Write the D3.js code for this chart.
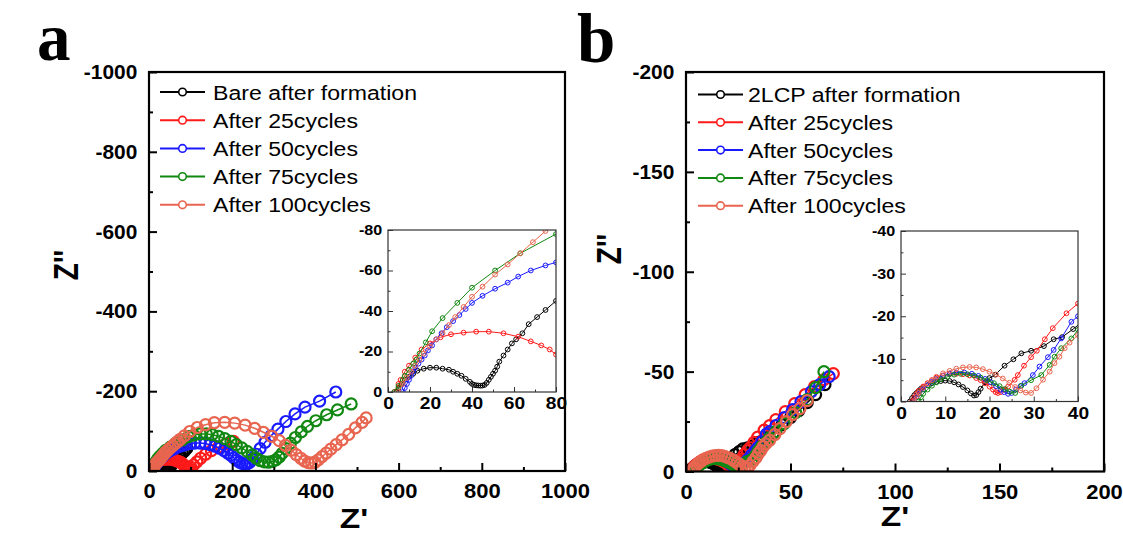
<!DOCTYPE html>
<html>
<head>
<meta charset="utf-8">
<script src="https://d3js.org/d3.v7.min.js"></script>
<style>
body { margin: 0; background: #fff; }
text { font-family: "Liberation Sans", Arial, sans-serif; }
</style>
</head>
<body>
<svg id="chart" width="1123" height="545"></svg>
<script>
// ---------- data (Z' , Z'') ----------
const colors = ['#000000', '#ff1a1a', '#1a1aff', '#118811', '#e8654f'];

const namesA = ['Bare after formation', 'After 25cycles', 'After 50cycles', 'After 75cycles', 'After 100cycles'];
const namesB = ['2LCP after formation', 'After 25cycles', 'After 50cycles', 'After 75cycles', 'After 100cycles'];

const bareA = [[4,0],[5,-2],[6.5,-4],[8,-6],[10,-7.5],[12,-9],[14,-10.5],[17,-11.5],[20,-12],[23,-12],[26,-11.5],[29,-11],
  [31,-10],[33,-9],[35,-8],[37,-6.5],[39,-5],[40,-4],[41,-3.5],[42,-3.3],[43,-3.2],[44,-3.1],[45,-3.2],[46,-3.5],[47,-4.5],
  [48,-6],[49,-7.5],[50,-9],[51,-10.5],[52,-12.5],[53,-15],[55,-18],[57,-21],[59,-24],[61,-26],[64,-29],[67,-33.5],
  [71,-37],[75,-40.5],[80,-45],[85,-50],[91,-57]];
const c25A = [[3,0],[5,-4],[6,-6],[8,-10],[10,-13],[13,-17],[16,-21],[20,-24],[25,-27],[30,-28.5],[36,-29.3],[42,-29.8],
  [48,-29.8],[55,-29],[62,-27.3],[68,-25],[73,-23],[77,-21],[80,-18.5],[84,-15],[87,-10],[90,-6],[93,-4],[97,-5],
  [101,-9],[107,-15],[115,-23],[124,-32],[136,-42],[150,-51],[167,-60],[185,-68],[203,-74]];
const c50A = [[7,0],[8,-2],[9,-4],[10,-6],[11,-8],[12,-10],[13,-12],[14.5,-14],[16,-16],[17.5,-18],[19,-20.5],[21,-23],
  [23,-26],[25.5,-29],[28,-32],[31,-35],[34,-38],[37,-41],[40,-44],[45,-47.5],[51,-51],[57,-54],[62,-57],[68,-60],
  [75,-62.5],[80,-64],[90,-67],[100,-69],[110,-70],[123,-70],[135,-69],[147,-66],[159,-62],[170,-57],[180,-51],
  [189,-45],[197,-39],[204,-33],[211,-27],[218,-22],[224,-19],[230,-17],[236,-18],[242,-22],[249,-30],[258,-42],
  [267,-56],[279,-72],[293,-88],[310,-105],[329,-124],[351,-143],[375,-160],[410,-175],[449,-198]];
const c75A = [[3,0],[5,-3],[7,-6],[8,-8],[10,-11],[12,-14],[13.5,-16],[15,-19],[18,-24.5],[21,-30],[26,-36.5],[33,-44],
  [40,-51.5],[51,-60],[63,-68.5],[80,-78],[95,-86],[108,-90],[123,-93],[138,-93],[152,-91],[167,-87],[182,-81],
  [197,-74],[210,-66],[223,-58],[236,-49],[248,-40],[258,-32],[267,-26],[277,-23],[287,-22],[297,-24],[305,-28],
  [313,-35],[320,-44],[329,-56],[340,-70],[352,-84],[366,-98],[381,-112],[401,-126],[427,-141],[453,-153],[486,-168]];
const c100A = [[5,0],[7,-4],[9,-7],[11,-10],[13,-13],[15,-16],[17,-19],[20,-22.5],[23,-26],[26,-29],[29,-33],[32,-37],
  [36,-42],[40,-47],[45,-52],[51,-58],[57,-63],[63,-68.5],[69,-74],[75,-79.5],[85,-88],[98,-99],[116,-109],[136,-116],
  [157,-121],[182,-122],[206,-120],[231,-115],[254,-107],[275,-97],[295,-87],[313,-76],[328,-64],[342,-52],[354,-41],
  [365,-32],[374,-25],[383,-21],[391,-20],[399,-22],[407,-28],[416,-36],[426,-45],[437,-55],[450,-66],[464,-78],
  [480,-92],[496,-108],[512,-122],[522,-133]];

const lcpB = [[2,0],[2.5,-0.8],[3,-1.5],[3.5,-2],[4,-2.5],[4.5,-3],[5,-3.3],[6,-3.8],[7,-4.3],[8,-4.6],[9,-4.8],[10,-4.9],
  [11,-4.8],[12,-4.5],[13,-4],[14,-3.4],[15,-2.6],[15.8,-1.9],[16.5,-1.4],[17,-1.5],[17.5,-2.2],[18,-3],[19,-4.5],
  [20,-5.5],[21.3,-6.3],[23.4,-8.4],[25.4,-9.9],[27.2,-11.3],[29.4,-11.9],[32.3,-13],[34.5,-14.6],[36.4,-15.1],
  [38.9,-17],[42,-19.5],[46,-23.5],[50,-27],[54,-30.5],[58,-34.5],[62,-38.5],[66.5,-43.5]];
const c25B = [[2.5,0],[3,-1],[3.5,-1.8],[4,-2.5],[5,-3.5],[6,-4.3],[7,-5],[8,-5.6],[9.5,-6.1],[11,-6.4],[12.5,-6.5],
  [14,-6.4],[15.5,-6.1],[17,-5.5],[18,-5],[19,-4.3],[20,-3.5],[20.8,-2.8],[21.4,-2.2],[21.9,-2],[22.5,-2.2],[23.2,-2.8],
  [24.2,-3.5],[25.7,-5.1],[26.4,-6.2],[27.8,-8.4],[29.4,-10.4],[30.7,-11.9],[32.5,-14.6],[34.3,-17.2],[37.4,-20.7],
  [40,-23],[43,-26],[47.5,-30],[52,-34],[57,-38.5],[61.5,-42.5],[66,-46],[70.5,-49]];
const c50B = [[3,0],[3.5,-1],[4,-1.8],[5,-2.8],[6,-3.8],[7,-4.6],[8,-5.3],[9.5,-6],[11,-6.5],[12.5,-6.8],[14.3,-6.8],
  [16,-6.5],[17.5,-6],[19,-5.3],[20.3,-4.5],[21.5,-3.6],[22.5,-2.8],[23.3,-2.2],[24.2,-1.8],[25,-2],[26,-2.8],[27,-3.6],
  [27.9,-4.3],[29.8,-6.2],[31.3,-8.2],[33.2,-10.4],[34.5,-12.1],[36.2,-14.8],[38.5,-18.7],[40,-20],[43,-23],[47,-27],
  [51,-31],[55,-35],[60,-40],[64,-43.5],[68.5,-47.5]];
const c75B = [[4,0],[4.5,-1],[5,-1.8],[6,-2.8],[7,-3.7],[8,-4.5],[9,-5.2],[10.5,-5.8],[12,-6.3],[13.5,-6.5],[15,-6.4],
  [16.5,-6.1],[18,-5.6],[19.5,-5],[21,-4.3],[22.3,-3.6],[23.5,-2.9],[24.6,-2.3],[25.8,-2],[27.2,-3.7],[29.4,-5],
  [31.7,-6.2],[33.6,-8.6],[34.7,-10.5],[36.2,-12.5],[38.5,-14.8],[40,-16.8],[43,-20],[47,-24],[52.5,-29.5],[58,-36],
  [62,-42],[66,-50]];
const c100B = [[3,0],[3.5,-1.2],[4,-2],[5,-3.2],[6,-4.2],[7,-5],[8,-5.8],[9.5,-6.6],[11,-7.2],[12.5,-7.7],[14,-8],
  [15.5,-8.1],[17,-8],[18.5,-7.6],[20,-7],[21.5,-6.3],[23,-5.4],[24.5,-4.4],[25.8,-3.4],[27,-2.6],[28.2,-2.1],[29.4,-2],
  [30.6,-3.1],[32.1,-5.1],[33.6,-7],[34.7,-9],[35.8,-10.5],[37,-12.5],[38.1,-13.8],[40,-15.6],[42.5,-18.5],[45,-21.5],
  [48,-25],[51,-28.5],[54.5,-31.5],[58,-35.5]];

// ticks
const aXTicks = [0, 200, 400, 600, 800, 1000];
const aYTicks = [0, -200, -400, -600, -800, -1000];
const aInXTicks = [0, 20, 40, 60, 80];
const aInYTicks = [0, -20, -40, -60, -80];
const bXTicks = [0, 50, 100, 150, 200];
const bYTicks = [0, -50, -100, -150, -200];
const bInXTicks = [0, 10, 20, 30, 40];
const bInYTicks = [0, -10, -20, -30, -40];

const svg = d3.select('#chart');

function stext(g, x, y, str, size, sx, anchor, extra) {
  return g.append('text')
    .attr('transform', `translate(${x},${y}) scale(${sx},1)` + (extra || ''))
    .attr('text-anchor', anchor)
    .style('font-size', size + 'px')
    .style('font-weight', 'bold')
    .text(str);
}

function minorOf(ticks) {
  const out = [];
  for (let i = 0; i < ticks.length - 1; i++) out.push((ticks[i] + ticks[i + 1]) / 2);
  return out;
}

// one plot frame with data
function plot(o) {
  const [x0, x1, yb, yt] = o.box;
  const xs = d3.scaleLinear().domain([o.xTicks[0], o.xTicks[o.xTicks.length - 1]]).range([x0, x1]);
  const ys = d3.scaleLinear().domain([o.yTicks[0], o.yTicks[o.yTicks.length - 1]]).range([yb, yt]);
  const g = svg.append('g');
  if (o.fill) g.append('rect').attr('x', x0).attr('y', yt).attr('width', x1 - x0).attr('height', yb - yt).attr('fill', '#fff');

  const id = 'clip' + o.key;
  g.append('clipPath').attr('id', id).append('rect')
    .attr('x', x0).attr('y', yt).attr('width', x1 - x0).attr('height', yb - yt);
  const dg = g.append('g').attr('clip-path', `url(#${id})`);
  const line = d3.line().x(d => xs(d[0])).y(d => ys(d[1]));
  o.series.forEach((s, i) => {
    dg.append('path').attr('d', line(s)).attr('fill', 'none')
      .attr('stroke', colors[i]).attr('stroke-width', o.lw);
    dg.selectAll(null).data(s).enter().append('circle')
      .attr('cx', d => xs(d[0])).attr('cy', d => ys(d[1])).attr('r', o.r)
      .attr('fill', 'none').attr('stroke', colors[i]).attr('stroke-width', o.mw);
  });

  // ticks (inward)
  const ax = g.append('g').attr('transform', `translate(0,${yb})`)
    .call(d3.axisBottom(xs).tickValues(o.xTicks).tickSizeInner(-o.tl).tickSizeOuter(0).tickPadding(o.xpad).tickFormat(d => String(d)));
  const axm = g.append('g').attr('transform', `translate(0,${yb})`)
    .call(d3.axisBottom(xs).tickValues(minorOf(o.xTicks)).tickSizeInner(-o.tl / 2).tickSizeOuter(0).tickFormat(''));
  const ay = g.append('g').attr('transform', `translate(${x0},0)`)
    .call(d3.axisLeft(ys).tickValues(o.yTicks).tickSizeInner(-o.tl).tickSizeOuter(0).tickPadding(o.ypad).tickFormat(d => String(d)));
  const aym = g.append('g').attr('transform', `translate(${x0},0)`)
    .call(d3.axisLeft(ys).tickValues(minorOf(o.yTicks)).tickSizeInner(-o.tl / 2).tickSizeOuter(0).tickFormat(''));
  [ax, axm, ay, aym].forEach(a => {
    a.select('.domain').remove();
    a.selectAll('.tick line').attr('stroke', o.frameColor).attr('stroke-width', o.tw);
  });
  ax.selectAll('.tick text').attr('transform', `scale(${o.xsx},1)`)
    .style('font-size', o.xfs + 'px').style('font-weight', 'bold').style('font-family', '"Liberation Sans", Arial, sans-serif').attr('fill', '#000');
  ay.selectAll('.tick text').attr('transform', `scale(${o.ysx},1)`)
    .style('font-size', o.yfs + 'px').style('font-weight', 'bold').style('font-family', '"Liberation Sans", Arial, sans-serif').attr('fill', '#000');

  g.append('rect').attr('x', x0).attr('y', yt).attr('width', x1 - x0).attr('height', yb - yt)
    .attr('fill', 'none').attr('stroke', o.frameColor).attr('stroke-width', o.fw);
}

function legend(names, lx0, lx1, tx, y0, step) {
  const g = svg.append('g');
  names.forEach((n, i) => {
    const y = y0 + i * step;
    g.append('line').attr('x1', lx0).attr('x2', lx1).attr('y1', y).attr('y2', y)
      .attr('stroke', colors[i]).attr('stroke-width', 2);
    g.append('circle').attr('cx', (lx0 + lx1) / 2).attr('cy', y).attr('r', 3.8)
      .attr('fill', '#fff').attr('stroke', colors[i]).attr('stroke-width', 1.6);
    g.append('text').attr('transform', `translate(${tx},${y + 7.5}) scale(1.1,1)`)
      .style('font-size', '21px').text(n);
  });
}

const seriesA = [bareA, c25A, c50A, c75A, c100A];
const seriesB = [lcpB, c25B, c50B, c75B, c100B];

const mainStyle = { r: 5.5, mw: 2.2, lw: 1.5, tl: 8, tw: 2, fw: 2.2, frameColor: '#000',
  xfs: 20, xsx: 1.1, xpad: 13, yfs: 20.5, ysx: 1.02, ypad: 11.5 };
const insetStyle = { r: 2.4, mw: 1, lw: 1, tl: 5, tw: 1, fw: 1.2, frameColor: '#333', fill: true,
  xfs: 16, xsx: 1.2, xpad: 6, yfs: 14, ysx: 1.15, ypad: 5 };

// panel a
plot(Object.assign({ key: 'a', box: [149, 565, 471, 72], xTicks: aXTicks, yTicks: aYTicks, series: seriesA }, mainStyle));
legend(namesA, 160, 205, 213, 92, 28.2);
plot(Object.assign({ key: 'ai', box: [388, 556, 392, 230], xTicks: aInXTicks, yTicks: aInYTicks, series: seriesA }, insetStyle));

// panel b
plot(Object.assign({ key: 'b', box: [686, 1104, 471.5, 72], xTicks: bXTicks, yTicks: bYTicks, series: seriesB }, mainStyle));
legend(namesB, 698, 743, 748, 94.5, 27.8);
plot(Object.assign({ key: 'bi', box: [901, 1078, 401.5, 231], xTicks: bInXTicks, yTicks: bInYTicks, series: seriesB }, insetStyle));

// axis titles
stext(svg, 354, 528, "Z'", 28, 1.2, 'middle');
stext(svg, 895, 526, "Z'", 28, 1.2, 'middle');
stext(svg, 78, 265, "Z''", 28, 1.25, 'middle', ' rotate(-90)');
stext(svg, 621, 249, "Z''", 28, 1.25, 'middle', ' rotate(-90)');

// panel letters
svg.append('text').attr('x', 37).attr('y', 60).style('font-family', '"Liberation Serif", "Times New Roman", serif')
  .style('font-weight', 'bold').style('font-size', '67px').text('a');
svg.append('text').attr('x', 577).attr('y', 62).style('font-family', '"Liberation Serif", "Times New Roman", serif')
  .style('font-weight', 'bold').style('font-size', '69px').text('b');
</script>
</body>
</html>
